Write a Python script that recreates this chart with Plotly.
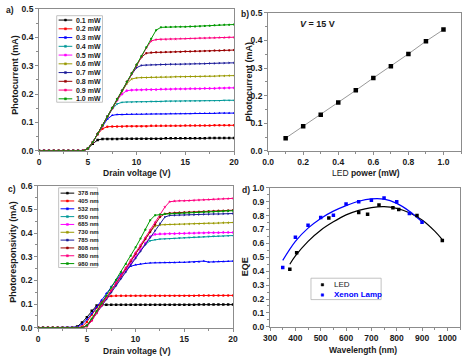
import plotly.graph_objects as go

W, H = 467, 361
FONT = "Liberation Sans, Arial, sans-serif"

# ---------------- data ----------------
drain_voltage = [0, 0.5, 1, 1.5, 2, 2.5, 3, 3.5, 4, 4.5, 5, 5.5, 6, 6.5, 7, 7.5, 8, 8.5, 9, 9.5,
                 10, 10.5, 11, 11.5, 12, 12.5, 13, 13.5, 14, 14.5, 15, 15.5, 16, 16.5, 17, 17.5,
                 18, 18.5, 19, 19.5, 20]

power_labels = ["0.1 mW", "0.2 mW", "0.3 mW", "0.4 mW", "0.5 mW", "0.6 mW", "0.7 mW", "0.8 mW", "0.9 mW", "1.0 mW"]
Z10 = [0, 0, 0, 0, 0, 0, 0, 0, 0, 0]
pc_0p1 = Z10 + [0.007, 0.025, 0.038, 0.042, 0.042, 0.042, 0.042, 0.043, 0.043, 0.043, 0.043, 0.043, 0.043, 0.043, 0.043, 0.043,
                0.044, 0.044, 0.044, 0.044, 0.044, 0.044, 0.044, 0.044, 0.044, 0.045, 0.045, 0.045, 0.045, 0.045, 0.045]
pc_0p2 = Z10 + [0.008, 0.03, 0.058, 0.078, 0.085, 0.086, 0.086, 0.086, 0.087, 0.087, 0.087, 0.087, 0.087, 0.088, 0.088, 0.088,
                0.088, 0.088, 0.088, 0.088, 0.089, 0.089, 0.089, 0.089, 0.089, 0.089, 0.09, 0.09, 0.09, 0.09, 0.09]
pc_0p3 = Z10 + [0.008, 0.03, 0.06, 0.088, 0.112, 0.125, 0.128, 0.128, 0.129, 0.129, 0.129, 0.129, 0.13, 0.13, 0.13, 0.13,
                0.13, 0.131, 0.131, 0.131, 0.131, 0.131, 0.132, 0.132, 0.132, 0.132, 0.132, 0.133, 0.133, 0.133, 0.133]
pc_0p4 = Z10 + [0.008, 0.03, 0.06, 0.09, 0.12, 0.147, 0.165, 0.171, 0.172, 0.172, 0.173, 0.173, 0.173, 0.174, 0.174, 0.174,
                0.175, 0.175, 0.175, 0.175, 0.176, 0.176, 0.176, 0.176, 0.177, 0.177, 0.177, 0.177, 0.178, 0.178, 0.178]
pc_0p5 = Z10 + [0.008, 0.03, 0.06, 0.09, 0.121, 0.15, 0.178, 0.2, 0.212, 0.214, 0.215, 0.215, 0.216, 0.216, 0.216, 0.217,
                0.217, 0.217, 0.218, 0.218, 0.218, 0.219, 0.219, 0.219, 0.22, 0.22, 0.22, 0.221, 0.221, 0.222, 0.222]
pc_0p6 = Z10 + [0.008, 0.03, 0.06, 0.09, 0.121, 0.151, 0.181, 0.21, 0.237, 0.253, 0.257, 0.258, 0.258, 0.259, 0.259, 0.26,
                0.26, 0.26, 0.261, 0.261, 0.261, 0.262, 0.262, 0.262, 0.263, 0.263, 0.263, 0.264, 0.264, 0.265, 0.265]
pc_0p7 = Z10 + [0.008, 0.03, 0.06, 0.09, 0.121, 0.151, 0.182, 0.212, 0.242, 0.27, 0.293, 0.301, 0.302, 0.303, 0.303, 0.304,
                0.304, 0.305, 0.305, 0.305, 0.306, 0.306, 0.307, 0.307, 0.307, 0.308, 0.308, 0.309, 0.309, 0.31, 0.31]
pc_0p8 = Z10 + [0.008, 0.03, 0.06, 0.09, 0.121, 0.151, 0.182, 0.212, 0.243, 0.273, 0.302, 0.33, 0.344, 0.346, 0.347, 0.347,
                0.348, 0.348, 0.349, 0.349, 0.35, 0.35, 0.351, 0.351, 0.352, 0.352, 0.353, 0.353, 0.354, 0.354, 0.355]
pc_0p9 = Z10 + [0.008, 0.03, 0.06, 0.09, 0.121, 0.151, 0.182, 0.212, 0.243, 0.273, 0.304, 0.333, 0.362, 0.387, 0.392, 0.393,
                0.393, 0.394, 0.394, 0.395, 0.395, 0.396, 0.396, 0.397, 0.397, 0.398, 0.398, 0.399, 0.399, 0.4, 0.4]
pc_1p0 = Z10 + [0.008, 0.03, 0.06, 0.09, 0.121, 0.151, 0.182, 0.212, 0.243, 0.273, 0.304, 0.334, 0.365, 0.395, 0.425, 0.435,
                0.436, 0.436, 0.437, 0.437, 0.437, 0.438, 0.438, 0.439, 0.44, 0.441, 0.442, 0.443, 0.444, 0.444, 0.445]
panel_a_series = [pc_0p1, pc_0p2, pc_0p3, pc_0p4, pc_0p5, pc_0p6, pc_0p7, pc_0p8, pc_0p9, pc_1p0]

led_power = [0.1, 0.2, 0.3, 0.4, 0.5, 0.6, 0.7, 0.8, 0.9, 1.0]
pc_at_15v = [0.046, 0.089, 0.131, 0.175, 0.219, 0.264, 0.306, 0.351, 0.397, 0.439]

wl_labels = ["378 nm", "405 nm", "532 nm", "650 nm", "685 nm", "730 nm", "785 nm", "808 nm", "880 nm", "980 nm"]
r378 = [0, 0, 0, 0, 0, 0, 0, 0, 0.005, 0.022, 0.045, 0.072, 0.094, 0.097, 0.097, 0.097, 0.097, 0.097, 0.097, 0.097,
        0.097, 0.097, 0.097, 0.097, 0.097, 0.097, 0.097, 0.097, 0.097, 0.097, 0.097, 0.097, 0.097, 0.098, 0.098, 0.098,
        0.098, 0.098, 0.098, 0.098, 0.098]
r405 = [0, 0, 0, 0, 0, 0, 0, 0, 0, 0.005, 0.025, 0.055, 0.085, 0.11, 0.128, 0.134, 0.135, 0.135, 0.135, 0.135,
        0.135, 0.135, 0.135, 0.136, 0.136, 0.136, 0.136, 0.136, 0.136, 0.136, 0.136, 0.136, 0.136, 0.137, 0.137, 0.137,
        0.137, 0.137, 0.137, 0.137, 0.137]
r532 = [0, 0, 0, 0, 0, 0, 0, 0, 0.003, 0.015, 0.035, 0.06, 0.088, 0.117, 0.146, 0.175, 0.203, 0.228, 0.248, 0.26,
        0.266, 0.27, 0.272, 0.274, 0.275, 0.275, 0.276, 0.276, 0.276, 0.277, 0.277, 0.278, 0.278, 0.279, 0.282, 0.278,
        0.279, 0.28, 0.28, 0.281, 0.282]
r650 = Z10 + [0.01, 0.035, 0.068, 0.098, 0.127, 0.156, 0.185, 0.214, 0.243, 0.272, 0.3, 0.328, 0.352, 0.368, 0.373, 0.375,
              0.376, 0.377, 0.378, 0.38, 0.381, 0.382, 0.383, 0.384, 0.385, 0.386, 0.387, 0.388, 0.388, 0.389, 0.39]
r685 = Z10 + [0.01, 0.035, 0.068, 0.098, 0.127, 0.156, 0.185, 0.214, 0.243, 0.272, 0.301, 0.33, 0.358, 0.385, 0.395, 0.397,
              0.397, 0.398, 0.398, 0.399, 0.399, 0.4, 0.4, 0.401, 0.401, 0.402, 0.402, 0.402, 0.403, 0.403, 0.403]
r730 = Z10 + [0.008, 0.033, 0.065, 0.096, 0.127, 0.158, 0.189, 0.22, 0.251, 0.282, 0.313, 0.344, 0.375, 0.405, 0.43, 0.435,
              0.436, 0.437, 0.437, 0.438, 0.438, 0.439, 0.44, 0.44, 0.441, 0.442, 0.442, 0.443, 0.444, 0.444, 0.445]
r785 = Z10 + [0.008, 0.032, 0.062, 0.091, 0.12, 0.149, 0.178, 0.207, 0.236, 0.265, 0.294, 0.323, 0.352, 0.381, 0.41, 0.44,
              0.468, 0.475, 0.476, 0.477, 0.477, 0.478, 0.478, 0.479, 0.48, 0.48, 0.481, 0.481, 0.482, 0.482, 0.483]
r808 = Z10 + [0.008, 0.033, 0.065, 0.096, 0.127, 0.158, 0.189, 0.22, 0.251, 0.282, 0.313, 0.344, 0.375, 0.406, 0.437, 0.468,
              0.482, 0.485, 0.486, 0.487, 0.488, 0.489, 0.49, 0.491, 0.492, 0.493, 0.494, 0.495, 0.495, 0.496, 0.497]
r880 = Z10 + [0.005, 0.03, 0.062, 0.094, 0.126, 0.158, 0.19, 0.222, 0.254, 0.286, 0.318, 0.35, 0.382, 0.414, 0.446, 0.478,
              0.51, 0.533, 0.536, 0.537, 0.537, 0.538, 0.539, 0.54, 0.541, 0.542, 0.543, 0.544, 0.545, 0.546, 0.547]
r980 = Z10 + [0.01, 0.038, 0.07, 0.103, 0.136, 0.169, 0.202, 0.236, 0.27, 0.305, 0.34, 0.377, 0.415, 0.455, 0.476, 0.479,
              0.481, 0.482, 0.483, 0.484, 0.485, 0.486, 0.487, 0.488, 0.489, 0.49, 0.491, 0.492, 0.493, 0.494, 0.495]
panel_c_series = [r378, r405, r532, r650, r685, r730, r785, r808, r880, r980]

led_wl = [378, 405, 532, 650, 685, 730, 785, 808, 880, 980]
led_eqe = [0.415, 0.532, 0.782, 0.822, 0.81, 0.876, 0.857, 0.843, 0.8, 0.62]
xe_wl = [350, 400, 450, 500, 550, 600, 650, 700, 750, 800, 850, 900]
xe_eqe = [0.426, 0.644, 0.73, 0.787, 0.803, 0.883, 0.9, 0.91, 0.927, 0.9, 0.815, 0.752]
led_fit_wl = [378, 400, 450, 500, 550, 600, 650, 700, 750, 800, 850, 900, 950, 980]
led_fit_eqe = [0.45, 0.51, 0.615, 0.695, 0.755, 0.805, 0.838, 0.858, 0.865, 0.852, 0.82, 0.768, 0.688, 0.627]
xe_fit_wl = [350, 400, 450, 500, 550, 600, 650, 700, 750, 800, 850, 900]
xe_fit_eqe = [0.478, 0.615, 0.71, 0.78, 0.832, 0.872, 0.903, 0.92, 0.918, 0.888, 0.832, 0.755]

for s in panel_a_series + panel_c_series:
    assert len(s) == len(drain_voltage)

# ---------------- styles ----------------
colors = ["#000000", "#ff0000", "#0000ff", "#009999", "#ff00ff", "#999900", "#1a1a99", "#990000", "#ff0080", "#009900"]
symbols = ["square", "circle", "triangle-up", "triangle-down", "diamond", "triangle-left", "triangle-right",
           "hexagon", "star", "pentagon"]
AX = "#8c8c8c"


def pxx(x):
    return x / W


def pxy(y):
    return 1 - y / H


def axis(dom, rng, dtick, minor, fmt=None, anchor=None):
    d = dict(domain=dom, range=rng, dtick=dtick, tick0=0, showline=True, linecolor=AX, linewidth=1,
             mirror=True, ticks="outside", ticklen=3, tickcolor=AX, showgrid=False, zeroline=False,
             tickfont=dict(family=FONT, size=8.5, color="#1a1a1a", weight="bold"),
             minor=dict(ticks="outside", ticklen=2, tickcolor=AX, dtick=minor, showgrid=False),
             anchor=anchor, fixedrange=True)
    if fmt:
        d["tickformat"] = fmt
    return d


fig = go.Figure()

for i, ys in enumerate(panel_a_series):
    fig.add_trace(go.Scatter(x=drain_voltage, y=ys, mode="lines+markers", xaxis="x", yaxis="y",
                             line=dict(color=colors[i], width=1),
                             marker=dict(color=colors[i], size=2.5, symbol=symbols[i]),
                             name=power_labels[i], showlegend=False))

fig.add_trace(go.Scatter(x=led_power, y=pc_at_15v, mode="lines", xaxis="x2", yaxis="y2",
                         line=dict(color="#999999", width=1), showlegend=False))
fig.add_trace(go.Scatter(x=led_power, y=pc_at_15v, mode="markers", xaxis="x2", yaxis="y2",
                         marker=dict(color="#000000", size=4.5, symbol="square"), showlegend=False))

for i, ys in enumerate(panel_c_series):
    fig.add_trace(go.Scatter(x=drain_voltage, y=ys, mode="lines+markers", xaxis="x3", yaxis="y3",
                             line=dict(color=colors[i], width=1),
                             marker=dict(color=colors[i], size=2.5, symbol=symbols[i]),
                             name=wl_labels[i], showlegend=False))

fig.add_trace(go.Scatter(x=led_fit_wl, y=led_fit_eqe, mode="lines", line_shape="spline", xaxis="x4", yaxis="y4",
                         line=dict(color="#000000", width=1.2), showlegend=False))
fig.add_trace(go.Scatter(x=xe_fit_wl, y=xe_fit_eqe, mode="lines", line_shape="spline", xaxis="x4", yaxis="y4",
                         line=dict(color="#0000ff", width=1.2), showlegend=False))
fig.add_trace(go.Scatter(x=led_wl, y=led_eqe, mode="markers", xaxis="x4", yaxis="y4",
                         marker=dict(color="#000000", size=3.5, symbol="square"), showlegend=False))
fig.add_trace(go.Scatter(x=xe_wl, y=xe_eqe, mode="markers", xaxis="x4", yaxis="y4",
                         marker=dict(color="#0000ff", size=3.5, symbol="square"), showlegend=False))

fig.update_layout(
    width=W, height=H, margin=dict(l=0, r=0, t=0, b=0),
    paper_bgcolor="white", plot_bgcolor="white", showlegend=False,
    xaxis=axis([pxx(33), pxx(233)], [0, 20], 5, 2.5, anchor="y"),
    yaxis=axis([pxy(150), pxy(4)], [0, 0.5], 0.1, 0.05, ".1f", anchor="x"),
    xaxis2=axis([pxx(268), pxx(466)], [0, 1.1], 0.2, 0.1, ".1f", anchor="y2"),
    yaxis2=axis([pxy(150), pxy(8)], [0, 0.5], 0.1, 0.05, ".1f", anchor="x2"),
    xaxis3=axis([pxx(32), pxx(232)], [0, 20], 5, 2.5, anchor="y3"),
    yaxis3=axis([pxy(332), pxy(186)], [0, 0.6], 0.1, 0.05, ".1f", anchor="x3"),
    xaxis4=axis([pxx(270), pxx(465)], [300, 1050], 100, 50, anchor="y4"),
    yaxis4=axis([pxy(331), pxy(188)], [0, 1.0], 0.1, 0.05, ".1f", anchor="x4"),
)

ann = []
shapes = []


def text(x, y, t, size=9, bold=True, color="#1a1a1a", angle=0, xanchor="center"):
    ann.append(dict(x=pxx(x), y=pxy(y), xref="paper", yref="paper", text=t, showarrow=False,
                    font=dict(family=FONT, size=size, color=color, weight="bold" if bold else "normal"),
                    textangle=angle, xanchor=xanchor, yanchor="middle"))


# axis titles
text(133, 173, "Drain voltage (V)", 8.5)
text(8, 72, "Photocurrent (mA)", 9, angle=-90)
text(368, 173, "LED <b>power (mW)</b>", 8.5, bold=False)
text(248, 79, "Photocurrent (mA)", 9, angle=-90)
text(133, 356, "Drain voltage (V)", 8.5)
text(6, 254, "Photoresponsivity (mA)", 9, angle=-90)
text(365, 355, "Wavelength (nm)", 8.5)
text(244, 269, "EQE", 9, angle=-90)

# panel labels
text(3, 5, "a)", 8.5)
text(244, 9, "b)", 8.5)
text(5, 189, "c)", 8.5)
text(245, 190, "d)", 8.5)

text(319, 20, "<i>V</i> = 15 V", 9)


def legend(x0, y0, x1, y1, first, step, labels, size):
    shapes.append(dict(type="rect", xref="paper", yref="paper", x0=pxx(x0), x1=pxx(x1), y0=pxy(y1), y1=pxy(y0),
                       line=dict(color="#b3b3b3", width=0.8), fillcolor="white", layer="above"))
    for i, lab in enumerate(labels):
        yy = first + i * step
        shapes.append(dict(type="line", xref="paper", yref="paper", x0=pxx(x0 + 2), x1=pxx(x0 + 16),
                           y0=pxy(yy), y1=pxy(yy), line=dict(color=colors[i], width=1), layer="above"))
        shapes.append(dict(type="rect", xref="paper", yref="paper", x0=pxx(x0 + 8), x1=pxx(x0 + 10),
                           y0=pxy(yy + 1), y1=pxy(yy - 1), line=dict(color=colors[i], width=0.5),
                           fillcolor=colors[i], layer="above"))
        text(x0 + 18, yy, lab, size, xanchor="left")


legend(51, 11, 98, 100, 15.5, 9.0, power_labels, 7)
legend(53, 188, 93, 270, 193.5, 8.05, wl_labels, 6)

# panel d legend
shapes.append(dict(type="rect", xref="paper", yref="paper", x0=pxx(312), x1=pxx(384), y0=pxy(303), y1=pxy(281),
                   line=dict(color="#b3b3b3", width=0.8), fillcolor="white", layer="above"))
shapes.append(dict(type="rect", xref="paper", yref="paper", x0=pxx(322.5), x1=pxx(325), y0=pxy(289), y1=pxy(286.5),
                   line=dict(color="#000000", width=0.5), fillcolor="#000000", layer="above"))
shapes.append(dict(type="rect", xref="paper", yref="paper", x0=pxx(322.5), x1=pxx(325), y0=pxy(299.5), y1=pxy(297),
                   line=dict(color="#0000ff", width=0.5), fillcolor="#0000ff", layer="above"))
text(334, 287.5, "LED", 8, bold=False, xanchor="left")
text(334, 298, "Xenon Lamp", 8, color="#0000ff", xanchor="left")

fig.update_layout(annotations=ann, shapes=shapes)
fig.write_html("out.html", config={"displayModeBar": False},
               post_script="document.body.style.margin='0';document.body.style.overflow='hidden';")
